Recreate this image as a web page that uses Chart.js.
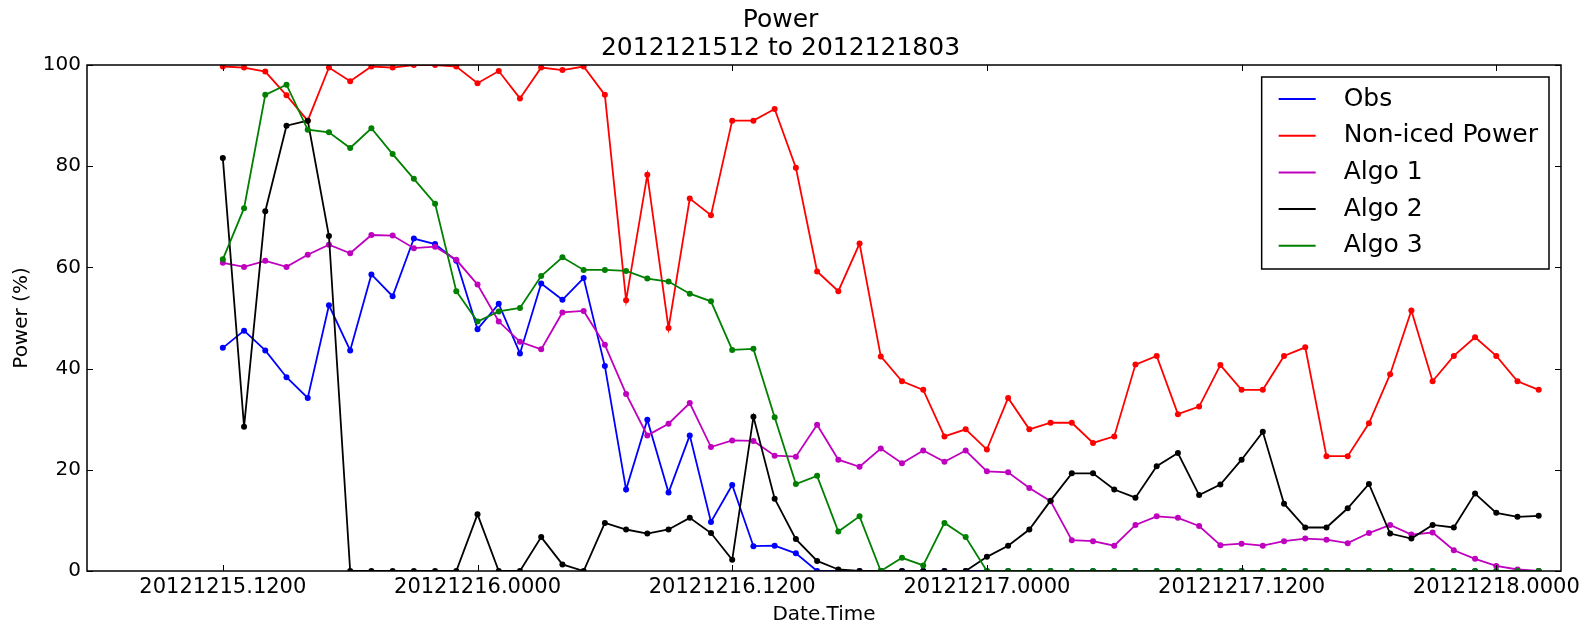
<!DOCTYPE html>
<html>
<head>
<meta charset="utf-8">
<script src="https://cdn.jsdelivr.net/npm/chart.js@4"></script>
<style>
  html, body { margin: 0; padding: 0; background: #fff; }
</style>
</head>
<body>
<canvas id="chart" width="1587" height="624"></canvas>
<script>
// hours since 2012-12-15 00:00, hourly from 15.1200 to 18.0200
const hours = Array.from({ length: 63 }, (_, i) => 12 + i);

const xTickHours = [12, 24, 36, 48, 60, 72];
const xTickLabels = [
  "20121215.1200", "20121216.0000", "20121216.1200",
  "20121217.0000", "20121217.1200", "20121218.0000",
];

const obs = [
  44.1, 47.5, 43.6, 38.3, 34.2, 52.5, 43.6, 58.6, 54.3, 65.7, 64.6,
  61.3, 47.8, 52.8, 43.0, 56.8, 53.6, 57.9, 40.5, 16.1, 29.9,
  15.5, 26.8, 9.7, 17.0, 4.9, 5.0, 3.5,
  0, 0, 0, 0, 0, 0, 0, 0, 0, 0, 0, 0, 0, 0, 0, 0, 0, 0, 0, 0,
  0, 0, 0, 0, 0, 0, 0, 0, 0, 0, 0, 0, 0, 0, 0,
];

const nonIced = [
  99.7, 99.5, 98.7, 94.0, 89.0, 99.5, 96.8, 99.7, 99.5, 100, 100,
  99.7, 96.4, 98.8, 93.4, 99.5, 99.0, 99.7, 94.1, 53.5, 78.3,
  48.0, 73.6, 70.3, 89.0, 89.0, 91.3, 79.7, 59.2, 55.3, 64.7, 42.4,
  37.5, 35.8, 26.6, 28.0, 24.0, 34.2, 28.0, 29.3, 29.3, 25.3,
  26.6, 40.8, 42.5, 31.0, 32.5, 40.7, 35.8, 35.8, 42.5, 44.2,
  22.7, 22.7, 29.2, 38.9, 51.5, 37.5, 42.5, 46.2, 42.5, 37.5, 35.8,
];

const algo1 = [
  60.9, 60.1, 61.3, 60.1, 62.5, 64.5, 62.8, 66.4, 66.3, 63.8, 64.1,
  61.5, 56.6, 49.3, 45.3, 43.8, 51.1, 51.4, 44.7, 35.0, 26.8,
  29.1, 33.2, 24.5, 25.8, 25.7, 22.8, 22.6, 28.9, 22.0, 20.6, 24.2,
  21.3, 23.8, 21.6, 23.8, 19.7, 19.5, 16.4, 13.8, 6.1, 5.9,
  5.0, 9.1, 10.8, 10.5, 8.9, 5.1, 5.4, 5.0, 5.9, 6.4,
  6.2, 5.5, 7.5, 9.1, 7.2, 7.6, 4.1, 2.4, 1.0, 0.3, 0,
];

const algo2 = [
  81.6, 28.5, 71.1, 88.0, 89.0, 66.2, 0, 0, 0, 0, 0,
  0, 11.2, 0, 0, 6.7, 1.3, 0, 9.5, 8.2, 7.4,
  8.2, 10.5, 7.5, 2.2, 30.5, 14.3, 6.3, 2.0, 0.3, 0, 0,
  0, 0, 0, 0, 2.8, 5.0, 8.2, 13.9, 19.3, 19.3,
  16.1, 14.5, 20.7, 23.3, 15.0, 17.1, 22.0, 27.5, 13.3, 8.6,
  8.6, 12.4, 17.2, 7.4, 6.4, 9.1, 8.6, 15.3, 11.5, 10.7, 10.9,
];

const algo3 = [
  61.6, 71.7, 94.1, 96.1, 87.2, 86.7, 83.6, 87.5, 82.4, 77.5, 72.6,
  55.3, 49.3, 51.3, 52.0, 58.3, 62.0, 59.5, 59.5, 59.3, 57.8,
  57.2, 54.8, 53.3, 43.7, 43.9, 30.4, 17.2, 18.8, 7.8, 10.8, 0,
  2.6, 1.1, 9.5, 6.7, 0, 0, 0, 0, 0, 0,
  0, 0, 0, 0, 0, 0, 0, 0, 0, 0, 0, 0, 0, 0, 0, 0, 0, 0, 0, 0, 0,
];

const FONT = "DejaVu Sans";
Chart.defaults.font.family = FONT;
Chart.defaults.color = "#000";

const toPoints = (values) => values.map((y, i) => ({ x: hours[i], y }));

const makeDataset = (label, values, color, order) => ({
  label,
  data: toPoints(values),
  borderColor: color,
  backgroundColor: color,
  borderWidth: 1.8,
  pointRadius: 3,
  pointBorderWidth: 0,
  pointHoverRadius: 3,
  tension: 0,
  order,
});

// frame round the plot with inward ticks on all four sides
const frameTicks = {
  id: "frameTicks",
  afterDatasetsDraw(chart) {
    const { ctx, chartArea: a, scales } = chart;
    const line = (x1, y1, x2, y2) => {
      ctx.beginPath();
      ctx.moveTo(x1, y1);
      ctx.lineTo(x2, y2);
      ctx.stroke();
    };
    ctx.save();
    ctx.strokeStyle = "#000";
    ctx.lineWidth = 1;
    scales.x.ticks.forEach((t) => {
      const px = Math.round(scales.x.getPixelForValue(t.value)) + 0.5;
      line(px, a.bottom, px, a.bottom - 6);
      line(px, a.top, px, a.top + 6);
    });
    scales.y.ticks.forEach((t) => {
      const py = Math.round(scales.y.getPixelForValue(t.value)) + 0.5;
      line(a.left, py, a.left + 6, py);
      line(a.right, py, a.right - 6, py);
    });
    ctx.lineWidth = 1.5;
    ctx.strokeRect(a.left, a.top, a.width, a.height);
    ctx.restore();
  },
};

// matplotlib style legend box in the upper right of the plot
const boxLegend = {
  id: "boxLegend",
  afterDraw(chart) {
    const { ctx, chartArea: a } = chart;
    const items = chart.data.datasets;
    ctx.save();
    ctx.font = `25px "${FONT}"`;
    const textW = Math.max(...items.map((d) => ctx.measureText(d.label).width));
    const w = 17 + 37 + 28 + textW + 11;
    const h = 192;
    const right = a.right - 12;
    const left = right - w;
    const top = a.top + 12;
    ctx.fillStyle = "#fff";
    ctx.fillRect(left, top, w, h);
    ctx.strokeStyle = "#000";
    ctx.lineWidth = 1.5;
    ctx.strokeRect(left, top, w, h);
    ctx.textBaseline = "middle";
    items.forEach((d, i) => {
      const y = top + 22 + i * 36.7;
      ctx.strokeStyle = d.borderColor;
      ctx.lineWidth = 2;
      ctx.beginPath();
      ctx.moveTo(left + 17, y);
      ctx.lineTo(left + 54, y);
      ctx.stroke();
      ctx.fillStyle = "#000";
      ctx.fillText(d.label, left + 82, y);
    });
    ctx.restore();
  },
};

new Chart(document.getElementById("chart").getContext("2d"), {
  type: "line",
  data: {
    datasets: [
      makeDataset("Obs", obs, "#0000ff", 5),
      makeDataset("Non-iced Power", nonIced, "#ff0000", 4),
      makeDataset("Algo 1", algo1, "#bf00bf", 3),
      makeDataset("Algo 2", algo2, "#000000", 2),
      makeDataset("Algo 3", algo3, "#008000", 1),
    ],
  },
  plugins: [frameTicks, boxLegend],
  options: {
    responsive: false,
    animation: false,
    layout: { padding: { left: 0, right: 26, top: 0, bottom: 0 } },
    plugins: {
      legend: { display: false },
      tooltip: { enabled: false },
      title: {
        display: true,
        text: ["Power", "2012121512 to 2012121803"],
        font: { size: 25, weight: "normal", lineHeight: 1.1 },
        color: "#000",
        padding: { top: 7, bottom: 3 },
      },
    },
    scales: {
      x: {
        type: "linear",
        min: 5.6,
        max: 75.05,
        afterBuildTicks: (scale) => {
          scale.ticks = xTickHours.map((value) => ({ value }));
        },
        afterFit: (scale) => {
          scale.height = 53;
        },
        ticks: {
          callback: (value, index) => xTickLabels[index],
          font: { size: 21 },
          padding: 4,
          maxRotation: 0,
          autoSkip: false,
        },
        grid: { display: false, drawTicks: false },
        border: { display: false },
        title: {
          display: true,
          text: "Date.Time",
          font: { size: 20, lineHeight: 0.9 },
          padding: 0,
        },
      },
      y: {
        min: 0,
        max: 100,
        afterFit: (scale) => {
          scale.width = 87;
        },
        ticks: { stepSize: 20, font: { size: 20 }, padding: 6 },
        grid: { display: false, drawTicks: false },
        border: { display: false },
        title: {
          display: true,
          text: "Power (%)",
          font: { size: 20, lineHeight: 1.2 },
          padding: { top: 10, bottom: 0 },
        },
      },
    },
  },
});
</script>
</body>
</html>
